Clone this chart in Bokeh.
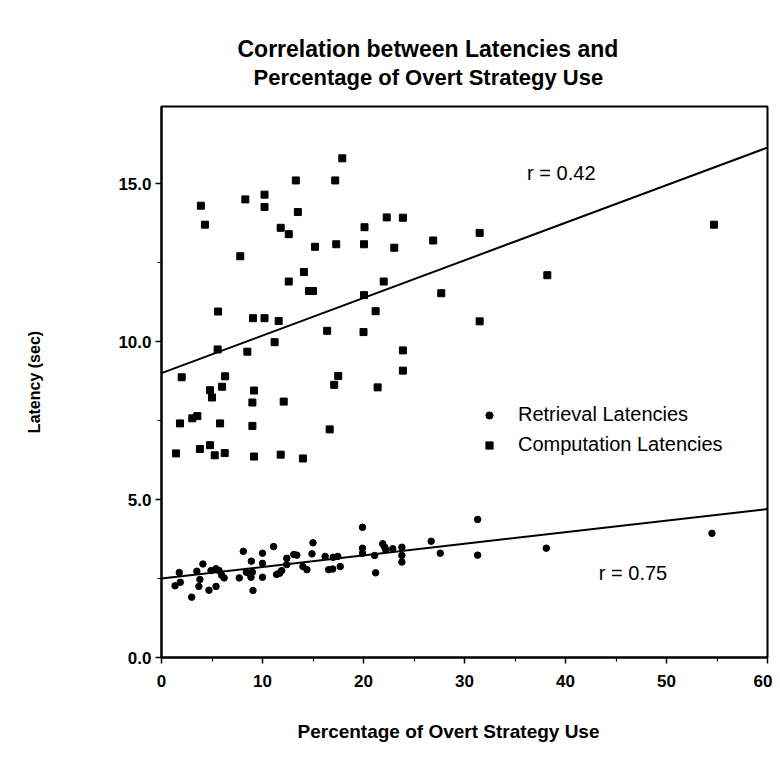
from bokeh.plotting import figure
from bokeh.models import (FixedTicker, PrintfTickFormatter, Title, Legend, LegendItem,
                          Range1d)
from bokeh.embed import file_html
from bokeh.resources import INLINE

# Computation latencies (percentage overt strategy use, latency sec)
comp_x = [3.9, 4.3, 7.8, 8.3, 10.2, 10.2, 13.3, 13.5, 11.8, 12.6, 15.2, 17.2, 17.9, 17.3,
          14.1, 12.6, 14.6, 15.0, 5.6, 9.06, 10.2, 11.6, 16.4, 5.56, 8.5, 11.2, 2.0, 6.3,
          6.0, 4.8, 5.0, 9.16, 9.0, 12.1, 17.5, 17.1, 1.83, 3.05, 3.55, 5.8, 9.0, 16.65,
          1.44, 3.8, 4.8, 5.27, 6.26, 9.16, 11.8, 14.0, 22.3, 23.9, 20.1, 20.05, 23.05,
          26.9, 31.5, 22.0, 20.05, 27.7, 38.2, 21.2, 20.0, 31.5, 23.9, 23.9, 21.4, 54.7]
comp_y = [14.3, 13.7, 12.7, 14.5, 14.65, 14.26, 15.1, 14.1, 13.6, 13.4, 13.0, 15.1, 15.8, 13.08,
          12.2, 11.9, 11.6, 11.6, 10.95, 10.74, 10.74, 10.65, 10.34, 9.75, 9.68, 9.98, 8.87, 8.9,
          8.57, 8.46, 8.23, 8.45, 8.07, 8.1, 8.91, 8.63, 7.41, 7.57, 7.64, 7.41, 7.33, 7.22,
          6.46, 6.6, 6.72, 6.4, 6.47, 6.36, 6.42, 6.3, 13.93, 13.92, 13.62, 13.08, 12.97,
          13.2, 13.44, 11.9, 11.47, 11.53, 12.1, 10.96, 10.3, 10.64, 9.72, 9.08, 8.55, 13.7]

# Retrieval latencies
retr_x = [1.76, 1.86, 1.34, 2.99, 3.5, 3.8, 3.7, 4.1, 4.7, 5.4, 4.9, 5.4, 5.7, 5.96, 6.2,
          7.7, 8.1, 8.4, 8.76, 8.9, 9.06, 8.86, 9.0, 10.0, 10.0, 10.0, 11.1, 11.4, 11.7,
          11.9, 12.4, 12.4, 13.1, 13.4, 14.0, 14.4, 15.0, 14.9, 16.2, 16.55, 16.95, 17.0,
          17.45, 17.7, 19.9, 19.9, 19.9, 21.1, 21.2, 21.9, 22.1, 22.2, 22.9, 23.8, 23.8,
          23.8, 26.7, 27.6, 31.3, 31.3, 38.1, 54.5]
retr_y = [2.69, 2.38, 2.27, 1.91, 2.73, 2.47, 2.25, 2.96, 2.13, 2.25, 2.75, 2.81, 2.75, 2.6, 2.52,
          2.52, 3.36, 2.7, 2.65, 3.05, 2.12, 2.54, 2.7, 3.3, 2.98, 2.54, 3.51, 2.63, 2.67,
          2.75, 3.14, 2.94, 3.26, 3.24, 2.88, 2.78, 3.63, 3.28, 3.2, 2.78, 2.8, 3.17,
          3.2, 2.88, 4.12, 3.46, 3.3, 3.23, 2.68, 3.6, 3.49, 3.41, 3.44, 3.49, 3.23,
          3.02, 3.68, 3.3, 4.37, 3.24, 3.46, 3.93]

# Regression lines (end points)
fit_x = [0, 60]
comp_fit = [9.0, 16.14]
retr_fit = [2.5, 4.7]

# r labels
r_labels = ["r = 0.42", "r = 0.75"]
r_x = [36.2, 43.3]
r_y = [15.35, 2.69]

x_ticks = [0, 10, 20, 30, 40, 50, 60]
x_minor = [5, 15, 25, 35, 45, 55]
y_ticks = [0, 5, 10, 15]
y_minor = [2.5, 7.5, 12.5]

title_lines = ["Correlation between Latencies and", "Percentage of Overt Strategy Use"]
x_label = "Percentage of Overt Strategy Use"
y_label = "Latency (sec)"

FONT = "Liberation Sans"

p = figure(width=772, height=760, output_backend="svg", toolbar_location=None,
           x_range=Range1d(0, 60), y_range=Range1d(0, 17.44),
           min_border_left=161, min_border_right=5, min_border_top=106, min_border_bottom=103,
           title=None)
p.grid.visible = False
p.outline_line_color = "black"
p.outline_line_width = 2
p.background_fill_color = "white"
p.border_fill_color = "white"

# axes
for ax in (p.xaxis[0], p.yaxis[0]):
    ax.axis_line_width = 2
    ax.axis_line_color = "black"
    ax.major_tick_line_width = 1.5
    ax.minor_tick_line_width = 1.2
    ax.major_tick_in = 0
    ax.major_tick_out = 6
    ax.minor_tick_in = 0
    ax.minor_tick_out = 4
    ax.major_label_text_font = FONT
    ax.major_label_text_font_style = "bold"
    ax.major_label_text_font_size = "17px"
    ax.major_label_text_color = "black"

p.xaxis[0].ticker = FixedTicker(ticks=x_ticks, minor_ticks=x_minor)
p.yaxis[0].ticker = FixedTicker(ticks=y_ticks, minor_ticks=y_minor)
p.yaxis[0].formatter = PrintfTickFormatter(format="%.1f")
p.xaxis[0].major_label_standoff = 11
p.yaxis[0].major_label_standoff = 4

p.yaxis[0].axis_label = y_label
p.yaxis[0].axis_label_text_font = FONT
p.yaxis[0].axis_label_text_font_style = "bold"
p.yaxis[0].axis_label_text_font_size = "16px"
p.yaxis[0].axis_label_text_color = "black"
p.yaxis[0].axis_label_standoff = 72

# x axis label as a below title (allows horizontal offset)
p.add_layout(Title(text="\n" + x_label, align="left", offset=136,
                   text_font=FONT, text_font_style="bold", text_font_size="19px",
                   text_color="black", standoff=16), "below")

# Titles above (second line first = closest to plot)
p.add_layout(Title(text=title_lines[1], align="left", offset=92,
                   text_font=FONT, text_font_style="bold", text_font_size="22px",
                   text_color="black", standoff=33), "above")
p.add_layout(Title(text=title_lines[0], align="left", offset=76,
                   text_font=FONT, text_font_style="bold", text_font_size="23px",
                   text_color="black", standoff=-31), "above")

# regression lines
p.line(fit_x, comp_fit, line_color="black", line_width=2)
p.line(fit_x, retr_fit, line_color="black", line_width=2)

# points
r_ret = p.scatter(retr_x, retr_y, marker="circle", size=6.5, fill_color="black", line_color="black")
r_comp = p.scatter(comp_x, comp_y, marker="square", size=7, fill_color="black", line_color="black")

# r labels
p.text(r_x, r_y, text=r_labels, text_font={"value": FONT}, text_font_size="20px",
       text_baseline="middle", text_align="left", text_color="black")

legend = Legend(items=[LegendItem(label="Retrieval Latencies", renderers=[r_ret]),
                       LegendItem(label="Computation Latencies", renderers=[r_comp])],
                location=(319, 201), padding=0, spacing=7, glyph_width=18, glyph_height=18,
                label_height=18, label_standoff=20, border_line_color=None,
                background_fill_alpha=0, label_text_font=FONT, label_text_font_size="20px",
                label_text_color="black", margin=0)
p.add_layout(legend)

open("out.html", "w").write(file_html(p, INLINE))
